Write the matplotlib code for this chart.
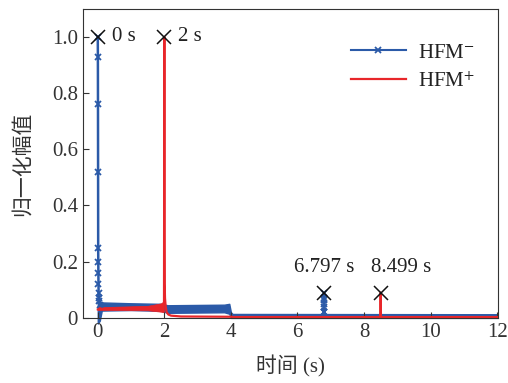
import matplotlib
matplotlib.use("Agg")
import matplotlib.pyplot as plt
import numpy as np

plt.rcParams['font.family'] = ['Liberation Serif', 'Noto Sans CJK SC']
plt.rcParams['mathtext.fontset'] = 'stix'
plt.rcParams['font.size'] = 15

# HFM- : peak samples just after t = 0 and the small peak at 6.797 s
t_neg = [0.0, 0.003, 0.006, 0.009, 0.012, 0.015, 0.018, 0.021, 0.025, 0.03, 0.04, 0.06]
v_neg = [1.0, 0.93, 0.76, 0.52, 0.25, 0.20, 0.16, 0.12, 0.09, 0.07, 0.06, 0.045]
t_neg2 = [6.785, 6.79, 6.794, 6.797, 6.80, 6.804, 6.81]
v_neg2 = [0.02, 0.04, 0.065, 0.09, 0.07, 0.05, 0.02]
# HFM- : noisy band (time, lower, upper)
t_band = [0.0, 0.06, 0.12, 1.0, 1.9, 2.1, 3.8, 3.95, 4.0, 4.05, 12.0]
lo_band = [-0.02, -0.01, 0.026, 0.028, 0.025, 0.018, 0.02, 0.015, 0.0, 0.0, 0.0]
hi_band = [0.06, 0.06, 0.055, 0.052, 0.05, 0.045, 0.047, 0.05, 0.02, 0.014, 0.013]

# HFM+
t_pos = [0.0, 0.1, 0.5, 1.0, 1.5, 1.8, 1.9, 1.95, 1.99, 2.0, 2.005, 2.01, 2.02, 2.04,
         2.07, 2.12, 2.2, 2.5, 4.0, 4.1, 8.49, 8.499, 8.508, 12.0]
v_pos = [0.03, 0.032, 0.033, 0.035, 0.037, 0.04, 0.042, 0.045, 0.05, 1.0, 0.3, 0.12,
         0.07, 0.04, 0.02, 0.012, 0.008, 0.005, 0.004, 0.003, 0.003, 0.09, 0.003, 0.003]
t_pband = [0.0, 1.5, 1.9, 1.99]
lo_pband = [0.028, 0.027, 0.022, 0.02]
hi_pband = [0.038, 0.043, 0.052, 0.06]

# marked peaks
peak_t = [0.0, 2.0, 6.797, 8.499]
peak_v = [1.0, 1.0, 0.09, 0.09]
peak_txt = ['0 s', '2 s', '6.797 s', '8.499 s']

blue = '#2b5aa8'
red = '#e8262a'

fig = plt.figure(figsize=(5.08, 3.83), dpi=100)
ax = fig.add_axes([0.163, 0.170, 0.817, 0.807])

ax.fill_between(t_band, lo_band, hi_band, color=blue, lw=1.0, clip_on=False)
ax.plot(t_neg, v_neg, color=blue, lw=1.8, marker='x', ms=4, mew=1.3, clip_on=False)
ax.plot(t_neg2, v_neg2, color=blue, lw=1.5, marker='x', ms=4, mew=1.3)
ax.plot([], [], color=blue, lw=1.5, marker='x', ms=4, mew=1.3, label='HFM$^{-}$')

ax.fill_between(t_pband, lo_pband, hi_pband, color=red, lw=0.5)
ax.plot(t_pos, v_pos, color=red, lw=1.6, label='HFM$^{+}$')

ax.plot(peak_t, peak_v, ls='none', marker='x', ms=10, mew=1.1, color='#111111', zorder=5)
for t, v, s in zip(peak_t[:2], peak_v[:2], peak_txt[:2]):
    ax.annotate(s, (t, v), xytext=(10, 0), textcoords='offset points',
                ha='left', va='center', color='#222222')
ax.annotate(peak_txt[2], (peak_t[2], peak_v[2]), xytext=(0, 11), textcoords='offset points',
            ha='center', va='bottom', color='#222222')
ax.annotate(peak_txt[3], (peak_t[3], peak_v[3]), xytext=(15, 11), textcoords='offset points',
            ha='center', va='bottom', color='#222222')

ax.set_xlim(-0.45, 12.02)
ax.set_ylim(0, 1.1)
ax.set_xticks([0, 2, 4, 6, 8, 10, 12])
ax.set_yticks([0, 0.2, 0.4, 0.6, 0.8, 1.0])
ax.set_yticklabels(['0', '0.2', '0.4', '0.6', '0.8', '1.0'])
ax.tick_params(direction='in', length=4, colors='#333333')
for sp in ax.spines.values():
    sp.set_color('#333333')

ax.set_xlabel('时间 (s)', color='#333333', labelpad=10)
ax.set_ylabel('归一化幅值', color='#333333', labelpad=14)

ax.legend(loc='upper right', bbox_to_anchor=(0.99, 0.95), frameon=False,
          handlelength=2.6, handletextpad=0.6, labelcolor='#222222', labelspacing=0.45)

fig.savefig('out.png', dpi=100)
